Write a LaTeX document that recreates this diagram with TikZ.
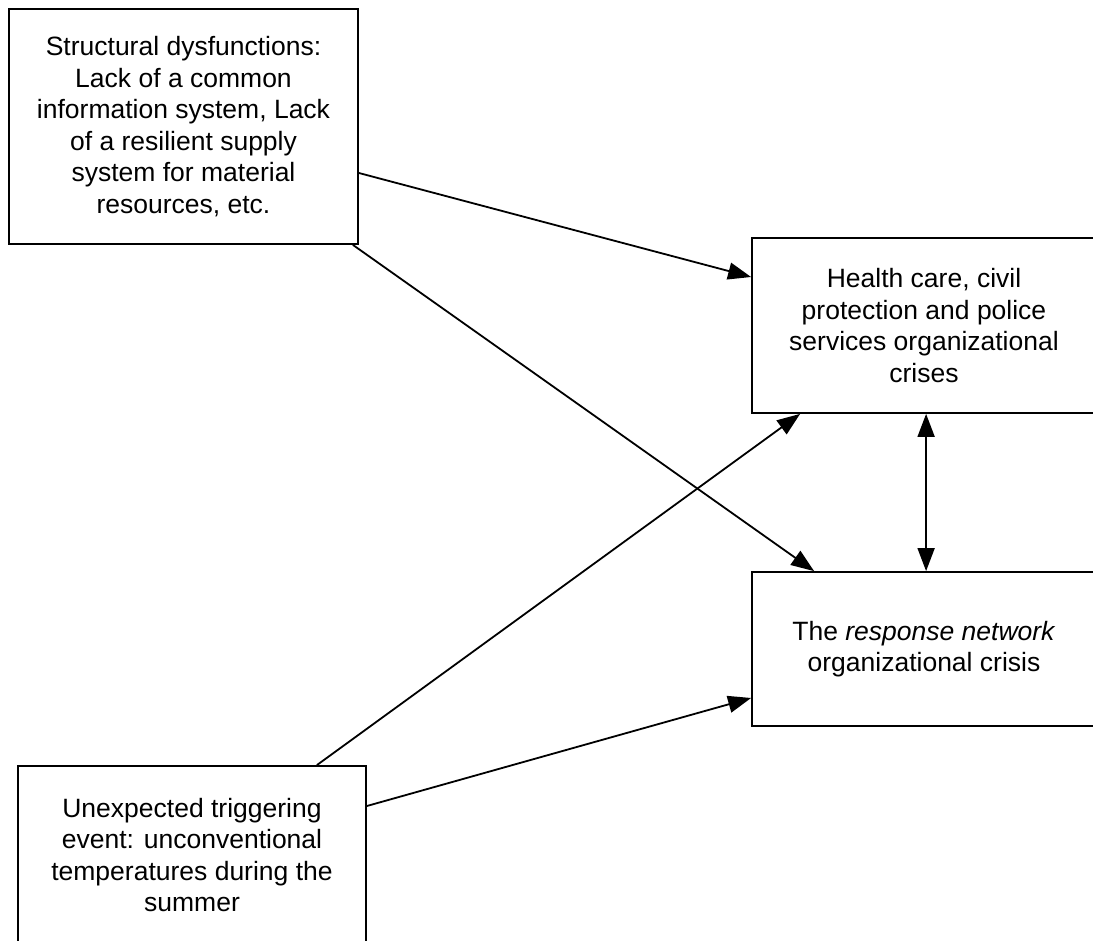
\documentclass[tikz,border=0pt]{standalone}
\usepackage{fontspec}
\setmainfont{Liberation Sans}
\usetikzlibrary{arrows.meta,calc}
\tikzset{
  boxnode/.style={draw=black, line width=1.8pt, rectangle, inner sep=0pt, align=center,
    font=\fontsize{26.5}{31.5}\selectfont},
  conn/.style={line width=1.8pt, -{Triangle[length=23pt,width=17pt]}},
  dconn/.style={line width=1.8pt, {Triangle[length=23pt,width=17pt]}-{Triangle[length=23pt,width=17pt]}}
}
\begin{document}
\begin{tikzpicture}[x=1pt,y=-1pt]
\useasboundingbox (0,0) rectangle (1093,941);
\fill[white] (0,0) rectangle (1093,941);
\clip (0,0) rectangle (1093,941);
\node[boxnode, minimum width=349pt, minimum height=235pt] (A) at (183.5,126.5)
  {Structural dysfunctions:\\Lack of a common\\information system, Lack\\of a resilient supply\\system for material\\resources, etc.};
\node[boxnode, minimum width=344pt, minimum height=175pt] (B) at (924,325.5)
  {Health care, civil\\protection and police\\services organizational\\crises};
\node[boxnode, minimum width=344pt, minimum height=154pt] (C) at (924,649)
  {The \textit{response network}\\organizational crisis};
\node[boxnode, minimum width=348pt, minimum height=178pt] (D) at (192,855)
  {Unexpected triggering\\event: unconventional\\temperatures during the\\summer};
\draw[conn] ([yshift=-46.5pt]A.east) -- ([yshift=48.5pt]B.west);
\draw[conn] ([xshift=-6pt]A.south east) -- ([xshift=63pt]C.north west);
\draw[conn] ([xshift=-50pt]D.north east) -- ([xshift=49pt]B.south west);
\draw[conn] ([yshift=49pt]D.east) -- ([yshift=-49pt]C.west);
\draw[dconn] ([xshift=175pt]B.south west) -- ([xshift=175pt]C.north west);
\end{tikzpicture}
\end{document}
